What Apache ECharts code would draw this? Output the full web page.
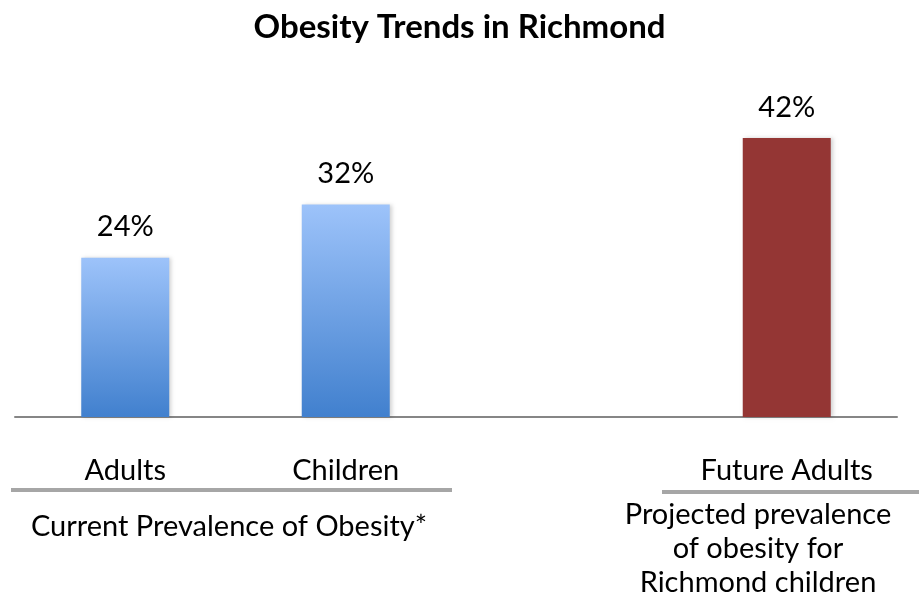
<!DOCTYPE html>
<html>
<head>
<meta charset="utf-8">
<title>Obesity Trends in Richmond</title>
<script src="https://cdn.jsdelivr.net/npm/echarts@6/dist/echarts.min.js"></script>
<style>
  html, body { margin: 0; padding: 0; background: #fff; }
  #chart { width: 919px; height: 607px; }
</style>
</head>
<body>
<div id="chart"></div>
<script>
// data
const categories = ['Adults', 'Children', '', 'Future Adults'];
const obesityPct = [24, 32, null, 42];
const groupNotes = ['Current Prevalence of Obesity*', 'Projected prevalence\nof obesity for\nRichmond children'];

const FONT = 'Lato, "Open Sans", sans-serif';

// current bars get the blue gradient, projected one is dark red
const blueFill = new echarts.graphic.LinearGradient(0, 0, 0, 1, [
    { offset: 0, color: '#9DC3FA' },
    { offset: 1, color: '#4180CE' }
]);
const redFill = '#943634';

const chart = echarts.init(document.getElementById('chart'));

const seriesData = obesityPct.map((v, i) => ({
    value: v == null ? '-' : v,
    itemStyle: { color: i === 3 ? redFill : blueFill }
}));

chart.setOption({
    animation: false,
    title: {
        text: 'Obesity Trends in Richmond',
        left: 'center',
        top: 6,
        textStyle: { fontFamily: FONT, fontWeight: 'bold', fontSize: 33, color: '#000' }
    },
    grid: { left: 15, right: 22, top: 85, bottom: 190 },
    xAxis: {
        type: 'category',
        data: categories,
        axisTick: { show: false },
        axisLine: { lineStyle: { color: '#868686', width: 2 } },
        axisLabel: { interval: 0, hideOverlap: false, margin: 39, fontFamily: FONT, fontSize: 29, color: '#000' }
    },
    yAxis: {
        type: 'value',
        min: 0,
        max: 50,
        show: false
    },
    series: [{
        type: 'bar',
        barWidth: 88,
        data: seriesData,
        itemStyle: {
            shadowColor: 'rgba(0,0,0,0.18)',
            shadowBlur: 4,
            shadowOffsetX: 2
        },
        label: {
            show: true,
            position: 'top',
            distance: 16,
            formatter: '{c}%',
            fontFamily: FONT,
            fontSize: 29,
            color: '#000'
        }
    }],
    graphic: [
        { type: 'line', shape: { x1: 11, y1: 490, x2: 452, y2: 490 }, style: { stroke: '#A6A6A6', lineWidth: 4 } },
        { type: 'line', shape: { x1: 662, y1: 492, x2: 919, y2: 492 }, style: { stroke: '#A6A6A6', lineWidth: 4 } },
        {
            type: 'text', x: 229, y: 527,
            style: { text: groupNotes[0], font: '29px ' + FONT, fill: '#000', textAlign: 'center', textVerticalAlign: 'middle' }
        },
        {
            type: 'text', x: 758, y: 549,
            style: { text: groupNotes[1], font: '29px ' + FONT, fill: '#000', textAlign: 'center', textVerticalAlign: 'middle', lineHeight: 34 }
        }
    ]
});

window.addEventListener('resize', () => chart.resize());
</script>
</body>
</html>
